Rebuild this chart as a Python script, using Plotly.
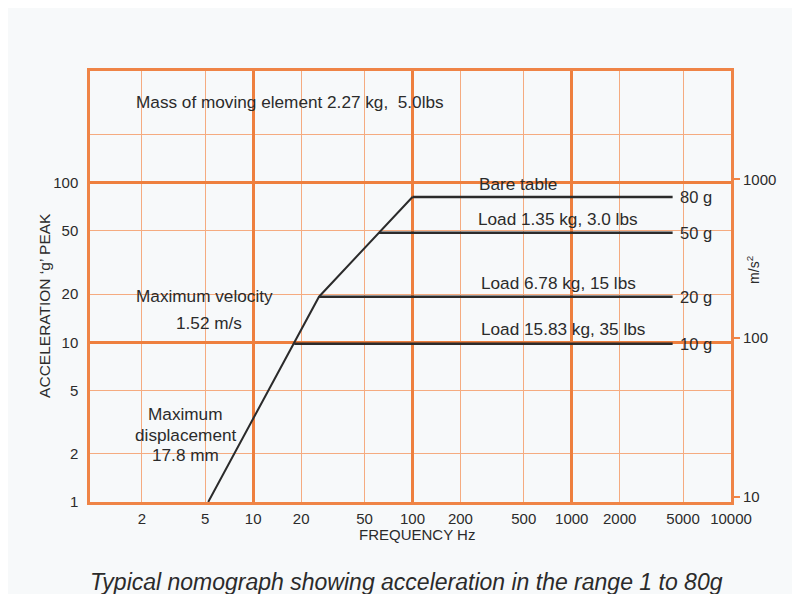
import numpy as np
import plotly.graph_objects as go

# ---------------- data ----------------
X_TICKS = [2, 5, 10, 20, 50, 100, 200, 500, 1000, 2000, 5000, 10000]
X_TICK_TEXT = ["2", "5", "10", "20", "50", "100", "200", "500", "1000", "2000", "5000", "10000"]
X_MAJOR = [10, 100, 1000]
Y_TICKS = [1, 2, 5, 10, 20, 50, 100, 200]
Y_TICK_TEXT = ["1", "2", "5", "10", "20", "50", "100", ""]
Y_MAJOR = [10, 100]
Y2_TICKS = [10, 100, 1000]

# envelope: max displacement -> max velocity -> bare table
ENVELOPE_FREQ = [5.22, 25.9, 100]
ENVELOPE_G = [1.0, 19.3, 81.3]

# load levels (flat acceleration limits)
LEVEL_G = [81.3, 48.6, 19.3, 9.8]
LEVEL_START = [100, 61.6, 25.9, 18.1]
LEVEL_END = [4300, 4300, 4300, 4300]
LEVEL_LABELS = ["80 g", "50 g", "20 g", "10 g"]

# text labels (frequency, g)
LOAD_TEXT = ["Bare table", "Load 1.35 kg, 3.0 lbs", "Load 6.78 kg, 15 lbs", "Load 15.83 kg, 35 lbs"]
LOAD_TEXT_F = [253, 250, 260, 260]
LOAD_TEXT_G = [98, 59.2, 23.5, 12.1]

NOTE_TEXT = ["Mass of moving element 2.27 kg,  5.0lbs", "Maximum velocity", "1.52 m/s",
             "Maximum", "displacement", "17.8 mm"]
NOTE_F = [1.78, 1.78, 3.2, 3.75, 3.75, 3.75]
NOTE_G = [320, 19.5, 13.2, 3.56, 2.63, 1.97]
NOTE_ANCHOR = ["left", "left", "left", "center", "center", "center"]

# ---------------- style ----------------
FONT = "Liberation Sans, Arial, Helvetica, sans-serif"
TXT = "#2b2b2b"
THIN = "#f5ab80"
THICK = "#ee7f3e"
BORDER = "#ef8446"
BG = "#f7f9fa"

X_RANGE = [np.log10(0.945), 4]
Y_RANGE = [0, np.log10(500)]
Y2_RANGE = [0.9685, 3.683]

fig = go.Figure()

# invisible helper traces so the overlay axes (thick grid, right m/s^2 axis) are drawn
hidden = dict(mode="lines", line=dict(width=0), opacity=0, hoverinfo="skip", showlegend=False)
fig.add_trace(go.Scatter(x=ENVELOPE_FREQ, y=ENVELOPE_G, xaxis="x2", yaxis="y", **hidden))
fig.add_trace(go.Scatter(x=ENVELOPE_FREQ, y=ENVELOPE_G, xaxis="x", yaxis="y3", **hidden))
fig.add_trace(go.Scatter(x=ENVELOPE_FREQ, y=ENVELOPE_G, xaxis="x", yaxis="y2", **hidden))

fig.add_trace(go.Scatter(x=ENVELOPE_FREQ, y=ENVELOPE_G, mode="lines",
                         line=dict(color=TXT, width=2), hoverinfo="skip", showlegend=False))
for g, s, e in zip(LEVEL_G, LEVEL_START, LEVEL_END):
    fig.add_trace(go.Scatter(x=[s, e], y=[g, g], mode="lines",
                             line=dict(color=TXT, width=2.5), hoverinfo="skip", showlegend=False))

annotations = []
for g, e, lab in zip(LEVEL_G, LEVEL_END, LEVEL_LABELS):
    annotations.append(dict(x=np.log10(e), y=np.log10(g), xref="x", yref="y", text=lab,
                            showarrow=False, xanchor="left", yanchor="middle", xshift=5,
                            font=dict(family=FONT, size=16.5, color=TXT)))
for t, f, g in zip(LOAD_TEXT, LOAD_TEXT_F, LOAD_TEXT_G):
    annotations.append(dict(x=np.log10(f), y=np.log10(g), xref="x", yref="y", text=t,
                            showarrow=False, xanchor="left", yanchor="middle",
                            font=dict(family=FONT, size=17.2, color=TXT)))
for t, f, g, a in zip(NOTE_TEXT, NOTE_F, NOTE_G, NOTE_ANCHOR):
    annotations.append(dict(x=np.log10(f), y=np.log10(g), xref="x", yref="y", text=t,
                            showarrow=False, xanchor=a, yanchor="middle",
                            font=dict(family=FONT, size=17.2, color=TXT)))

# axis titles and caption
annotations.append(dict(x=-0.0702, y=0.455, xref="paper", yref="paper",
                        text="ACCELERATION \u2018g\u2019 PEAK", textangle=-90, showarrow=False,
                        xanchor="center", yanchor="middle",
                        font=dict(family=FONT, size=15.5, color=TXT)))
annotations.append(dict(x=0.510, y=-0.076, xref="paper", yref="paper",
                        text="FREQUENCY Hz", showarrow=False, xanchor="center", yanchor="middle",
                        font=dict(family=FONT, size=15, color=TXT)))
annotations.append(dict(x=1.034, y=0.538, xref="paper", yref="paper",
                        text="m/s<sup>2</sup>", textangle=-90, showarrow=False,
                        xanchor="center", yanchor="middle",
                        font=dict(family=FONT, size=14, color=TXT)))
annotations.append(dict(x=0.494, y=-0.186, xref="paper", yref="paper",
                        text="<i>Typical nomograph showing acceleration in the range 1 to 80g</i>",
                        showarrow=False, xanchor="center", yanchor="middle",
                        font=dict(family=FONT, size=23, color=TXT)))

fig.update_layout(
    width=792, height=586,
    margin=dict(l=82, r=69, t=63, b=92, pad=0),
    paper_bgcolor=BG, plot_bgcolor=BG,
    showlegend=False,
    font=dict(family=FONT, color=TXT),
    annotations=annotations,
    xaxis=dict(type="log", range=X_RANGE, tickmode="array", tickvals=X_TICKS, ticktext=X_TICK_TEXT,
               showgrid=True, gridcolor=THIN, gridwidth=1, zeroline=False,
               showline=True, linecolor=BORDER, linewidth=2.5, mirror=True,
               ticks="outside", ticklen=1, tickcolor="rgba(0,0,0,0)",
               tickfont=dict(family=FONT, size=15, color=TXT)),
    xaxis2=dict(type="log", range=X_RANGE, overlaying="x", anchor="y", tickmode="array",
                tickvals=X_MAJOR, showticklabels=False, showgrid=True, gridcolor=THICK,
                gridwidth=2.5, zeroline=False, showline=False, ticks=""),
    yaxis=dict(type="log", range=Y_RANGE, tickmode="array", tickvals=Y_TICKS, ticktext=Y_TICK_TEXT,
               showgrid=True, gridcolor=THIN, gridwidth=1, zeroline=False,
               showline=True, linecolor=BORDER, linewidth=2.5, mirror=True,
               ticks="outside", ticklen=6, tickcolor="rgba(0,0,0,0)",
               tickfont=dict(family=FONT, size=15, color=TXT)),
    yaxis3=dict(type="log", range=Y_RANGE, overlaying="y", anchor="x", tickmode="array",
                tickvals=Y_MAJOR, showticklabels=False, showgrid=True, gridcolor=THICK,
                gridwidth=2.5, zeroline=False, showline=False, ticks=""),
    yaxis2=dict(type="log", range=Y2_RANGE, overlaying="y", anchor="x", side="right",
                tickmode="array", tickvals=Y2_TICKS, ticktext=[str(v) for v in Y2_TICKS],
                showgrid=False, zeroline=False, showline=False,
                ticks="outside", ticklen=8, tickwidth=1.5, tickcolor=BORDER,
                tickfont=dict(family=FONT, size=15, color=TXT)),
)

fig.write_html("out.html")
